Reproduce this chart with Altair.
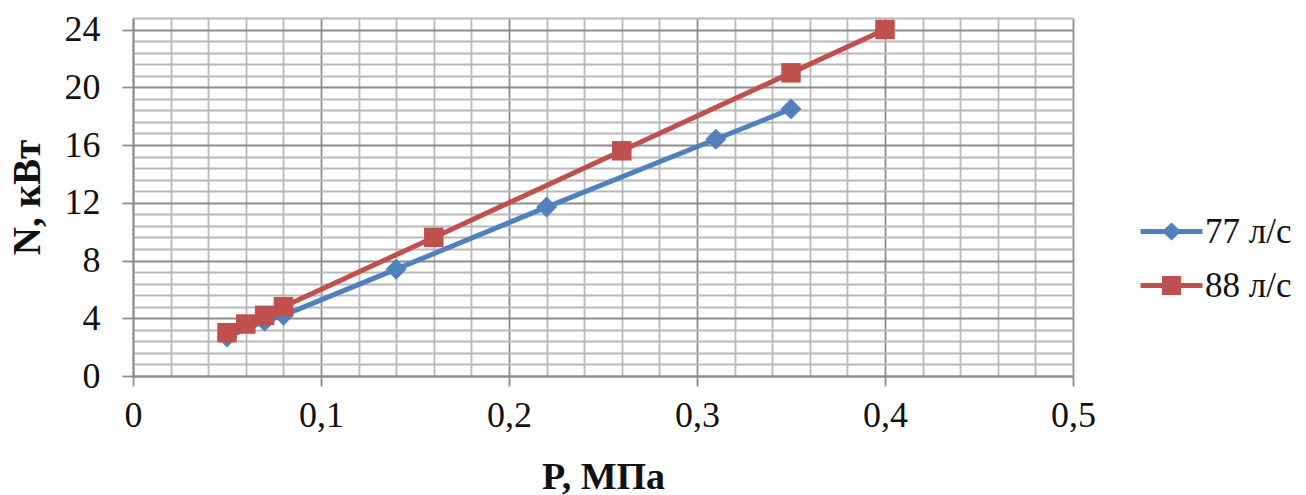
import altair as alt
import pandas as pd

# ---- data ----
p77 = [0.05, 0.07, 0.08, 0.14, 0.22, 0.31, 0.35]
n77 = [2.7, 3.8, 4.2, 7.4, 11.7, 16.4, 18.5]
p88 = [0.05, 0.06, 0.07, 0.08, 0.16, 0.26, 0.35, 0.40]
n88 = [3.0, 3.6, 4.2, 4.8, 9.6, 15.6, 21.0, 24.0]
series = ["77 л/с", "88 л/с"]
colors = ["#4F81BD", "#C0504D"]

x_grid = [round(0.02 * i, 2) for i in range(26)]
y_grid = [round(0.8 * i, 1) for i in range(32)]

df = pd.concat([
    pd.DataFrame({"P": p77, "N": n77, "s": series[0]}),
    pd.DataFrame({"P": p88, "N": n88, "s": series[1]}),
], ignore_index=True)

FONT = "Liberation Serif"
MAJ = "#8c8c8c"
MIN = "#b8b8b8"

x_major = "abs(datum.value*10 - round(datum.value*10)) < 1e-6"
y_major = "abs(datum.value/4 - round(datum.value/4)) < 1e-6"

xaxis = alt.Axis(
    values=x_grid, grid=True,
    gridColor=alt.condition(x_major, alt.value(MAJ), alt.value(MIN)),
    gridWidth=1.8,
    tickOpacity=alt.condition(x_major, alt.value(1), alt.value(0)),
    tickColor=MAJ, tickSize=10, tickWidth=1.8,
    domainColor=MAJ, domainWidth=1.8,
    labelExpr="abs(datum.value*10 - round(datum.value*10)) < 1e-6 ? replace(format(datum.value, '.1~f'), '.', ',') : ''",
    labelFont=FONT, labelFontSize=36, labelColor="#111", labelPadding=12,
    labelFlush=False, labelOverlap=False,
    title="P, МПа", titleFont=FONT, titleFontSize=38, titleFontWeight="bold",
    titleColor="#111", titleX=470, titleY=112, titleBaseline="alphabetic",
    titleAlign="center",
)
yaxis = alt.Axis(
    values=y_grid, grid=True,
    gridColor=alt.condition(y_major, alt.value(MAJ), alt.value(MIN)),
    gridWidth=1.8,
    tickOpacity=alt.condition(y_major, alt.value(1), alt.value(0)),
    tickColor=MAJ, tickSize=11, tickWidth=1.8,
    domainColor=MAJ, domainWidth=1.8,
    labelExpr="abs(datum.value/4 - round(datum.value/4)) < 1e-6 ? format(datum.value, 'd') : ''",
    labelFont=FONT, labelFontSize=36, labelColor="#111", labelPadding=22,
    labelFlush=False, labelOverlap=False,
    title="N, кВт", titleFont=FONT, titleFontSize=39, titleFontWeight="bold",
    titleColor="#111", titleAngle=270, titleX=-106, titleY=179,
    titleAlign="center", titleBaseline="middle",
)

xs = alt.Scale(domain=[0, 0.5], nice=False, zero=False)
ys = alt.Scale(domain=[0, 24.8], nice=False, zero=False)
enc_x = alt.X("P:Q", scale=xs, axis=xaxis)
enc_y = alt.Y("N:Q", scale=ys, axis=yaxis)

base = alt.Chart(df)

layers = []
for name, col, shp, sz in zip(series, colors, ["diamond", "square"], [440, 380]):
    f = base.transform_filter(alt.datum.s == name)
    layers.append(f.mark_line(color=col, strokeWidth=5).encode(x=enc_x, y=enc_y))
    layers.append(f.mark_point(shape=shp, filled=True, color=col, size=sz, opacity=1).encode(
        x=enc_x, y=enc_y))

# legend carrier (invisible points, visible legend symbols: line + marker)
leg_paths = [
    "M-3.1,-0.24H3.1V0.24H-3.1Z M0,-0.9L0.95,0L0,0.9L-0.95,0Z",
    "M-3.1,-0.24H3.1V0.24H-3.1Z M-0.95,-0.95H0.95V0.95H-0.95Z",
]
leg = alt.Legend(
    title=None, orient="none", legendX=1021, legendY=196,
    symbolSize=400, symbolStrokeWidth=0, symbolOpacity=1,
    labelFont=FONT, labelFontSize=35, labelColor="#111", labelOffset=16,
    rowPadding=18, padding=0,
)
legend_layer = base.mark_point(filled=True, opacity=0).encode(
    x=enc_x, y=enc_y,
    color=alt.Color("s:N", scale=alt.Scale(domain=series, range=colors), legend=leg),
    shape=alt.Shape("s:N", scale=alt.Scale(domain=series, range=leg_paths), legend=leg),
)

chart = alt.layer(*layers, legend_layer).properties(
    width=940, height=358,
    padding={"left": 133, "top": 18, "right": 233, "bottom": 119},
    autosize=alt.AutoSizeParams(type="none"),
).configure_view(strokeOpacity=0).configure(background="white")

chart.save("out.html", embed_options={"renderer": "svg", "actions": False})
